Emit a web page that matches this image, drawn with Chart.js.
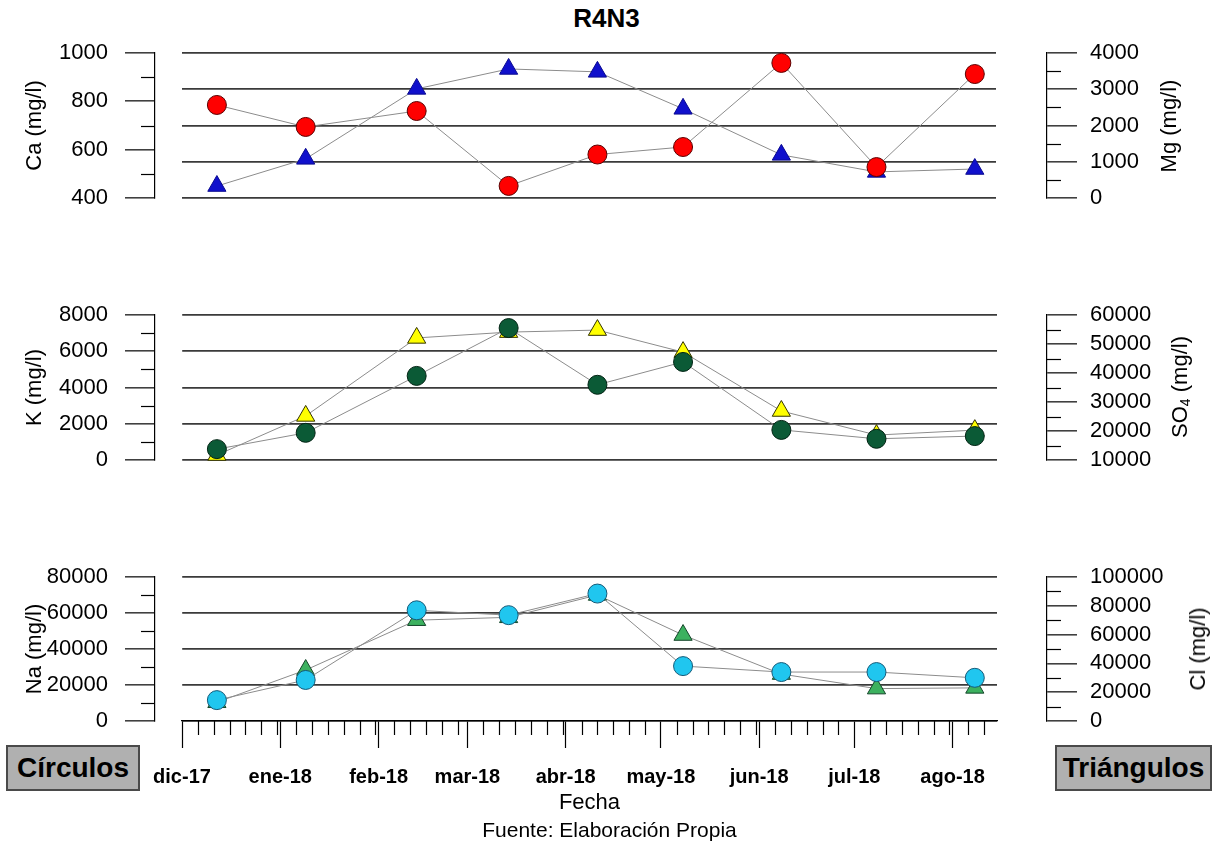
<!DOCTYPE html>
<html>
<head>
<meta charset="utf-8">
<script src="https://cdn.jsdelivr.net/npm/chart.js@4.4.1/dist/chart.umd.min.js"></script>
<style>
  body { margin: 0; background: #fff; width: 1213px; height: 844px; position: relative; overflow: hidden;
         font-family: Arial, "Liberation Sans", sans-serif; color: #000; }
  canvas { position: absolute; left: 0; }
  .txt { position: absolute; white-space: nowrap; }
  .rot { position: absolute; white-space: nowrap; font-size: 22px; line-height: 26px;
         transform: translate(-50%, -50%) rotate(-90deg); }
  .rot sub { font-size: 14px; vertical-align: -3px; }
  .box { position: absolute; box-sizing: border-box; background: #b0b0b0; border: 2px solid #4a4a4a;
         font-weight: bold; font-size: 28px; display: flex; align-items: center; justify-content: center; }
</style>
</head>
<body>
<div class="txt" style="left:0;width:1213px;top:3px;text-align:center;font-size:26px;line-height:30px;font-weight:bold">R4N3</div>

<canvas id="c1" width="1213" height="210" style="top:22px"></canvas>
<canvas id="c2" width="1213" height="210" style="top:284px"></canvas>
<canvas id="c3" width="1213" height="298" style="top:546px"></canvas>

<div class="rot" style="left:1169px;top:126px">Mg (mg/l)</div>
<div class="rot" style="left:1182px;top:387px">SO<sub>4</sub> (mg/l)</div>
<div class="rot" style="left:1198px;top:649px">Cl (mg/l)</div>

<div class="box" style="left:6px;top:745px;width:134px;height:46px">Círculos</div>
<div class="box" style="left:1055px;top:745px;width:157px;height:46px">Triángulos</div>

<div class="txt" style="left:0;width:1219px;top:818px;text-align:center;font-size:21px;line-height:24px">Fuente: Elaboración Propia</div>

<script>
// sampling dates and month ticks
const axisStart = "2017-12-01";
const axisEnd = "2018-08-15";
const sampleDates = ["2017-12-12", "2018-01-09", "2018-02-13", "2018-03-14", "2018-04-11",
                     "2018-05-08", "2018-06-08", "2018-07-08", "2018-08-08"];
const monthStarts = ["2017-12-01", "2018-01-01", "2018-02-01", "2018-03-01", "2018-04-01",
                     "2018-05-01", "2018-06-01", "2018-07-01", "2018-08-01"];
const monthLabels = ["dic-17", "ene-18", "feb-18", "mar-18", "abr-18", "may-18", "jun-18", "jul-18", "ago-18"];

// circles (left axes)
const ca = [785, 694, 760, 450, 580, 611, 959, 528, 913];
const k = [600, 1500, 4640, 7280, 4150, 5410, 1660, 1170, 1320];
const na = [11600, 22800, 61500, 58800, 70800, 30500, 27200, 27200, 24000];

// triangles (right axes)
const mg = [330, 1080, 3010, 3560, 3480, 2460, 1190, 720, 800];
const so4 = [11700, 25200, 52100, 54100, 54800, 47200, 26900, 18600, 20300];
const cl = [13000, 35400, 70000, 72000, 87500, 59700, 32600, 22500, 23000];

// axis tick labels
const caTicks = [400, 600, 800, 1000];
const mgTicks = [0, 1000, 2000, 3000, 4000];
const kTicks = [0, 2000, 4000, 6000, 8000];
const so4Ticks = [10000, 20000, 30000, 40000, 50000, 60000];
const naTicks = [0, 20000, 40000, 60000, 80000];
const clTicks = [0, 20000, 40000, 60000, 80000, 100000];

const toDay = s => (Date.parse(s) - Date.parse(axisStart)) / 86400000;
const monthDays = monthStarts.map(toDay);
const xMax = toDay(axisEnd);

Chart.defaults.font.family = 'Arial, "Liberation Sans", sans-serif';
Chart.defaults.color = '#000';

// short ticks between the labelled ones
Chart.register({
  id: 'minorTicks',
  afterDraw(chart) {
    const ctx = chart.ctx;
    ctx.save();
    ctx.strokeStyle = '#000';
    ctx.lineWidth = 1.2;
    ['y', 'y2'].forEach(id => {
      const s = chart.scales[id];
      const vals = s.ticks.map(t => t.value);
      for (let i = 0; i < vals.length - 1; i++) {
        const py = Math.round(s.getPixelForValue((vals[i] + vals[i + 1]) / 2)) + 0.5;
        const x0 = id === 'y' ? s.right : s.left;
        const x1 = id === 'y' ? s.right - 14 : s.left + 14;
        ctx.beginPath(); ctx.moveTo(x0, py); ctx.lineTo(x1, py); ctx.stroke();
      }
    });
    const sx = chart.scales.x;
    if (sx.options.display) {
      monthDays.forEach((d, i) => {
        const next = i < monthDays.length - 1 ? monthDays[i + 1] : xMax + 1;
        for (let m = d + 5; m < next && m <= xMax; m += 5) {
          const px = Math.round(sx.getPixelForValue(m)) + 0.5;
          ctx.beginPath(); ctx.moveTo(px, sx.top); ctx.lineTo(px, sx.top + 14); ctx.stroke();
        }
      });
    }
    ctx.restore();
  }
});

function points(values) {
  return values.map((v, i) => ({ x: toDay(sampleDates[i]), y: v }));
}

function panel(id, p) {
  const tickFont = { size: 22 };
  const gridColor = '#3a3a3a';
  return new Chart(document.getElementById(id), {
    type: 'line',
    data: {
      datasets: [
        {
          data: points(p.circles), yAxisID: 'y',
          borderColor: '#8c8c8c', borderWidth: 1, clip: false,
          pointStyle: 'circle', pointRadius: 9.5,
          pointBackgroundColor: p.circleFill, pointBorderColor: p.circleEdge, pointBorderWidth: 1
        },
        {
          data: points(p.triangles), yAxisID: 'y2',
          borderColor: '#8c8c8c', borderWidth: 1, clip: false,
          pointStyle: 'triangle', pointRadius: 10.5,
          pointBackgroundColor: p.triFill, pointBorderColor: p.triEdge, pointBorderWidth: 1
        }
      ]
    },
    options: {
      responsive: false,
      animation: false,
      events: [],
      devicePixelRatio: 1,
      layout: { padding: { top: 31, bottom: p.padBottom, left: 0, right: 0 } },
      plugins: { legend: { display: false }, tooltip: { enabled: false } },
      scales: {
        x: {
          type: 'linear', min: 0, max: xMax, display: p.showX, position: 'bottom',
          afterBuildTicks: s => { s.ticks = monthDays.map(v => ({ value: v })); },
          ticks: { autoSkip: false, maxRotation: 0, padding: 17,
                   callback: (v, i) => monthLabels[i], font: { size: 20, weight: 'bold' } },
          grid: { drawOnChartArea: false, drawTicks: true, tickLength: 27, tickColor: '#000', tickWidth: 1.2 },
          border: { display: true, color: '#000', width: 1.2 },
          title: { display: true, text: 'Fecha', font: { size: 22 }, padding: { top: 0, bottom: 0 } },
          afterFit: s => { if (p.showX) s.height = 95; }
        },
        y: {
          type: 'linear', position: 'left', weight: 10,
          min: p.leftTicks[0], max: p.leftTicks[p.leftTicks.length - 1],
          afterBuildTicks: s => { s.ticks = p.leftTicks.map(v => ({ value: v })); },
          ticks: { autoSkip: false, callback: v => String(v), font: tickFont, padding: 17 },
          grid: { drawOnChartArea: p.gridLeft, color: gridColor, lineWidth: 1.7,
                  drawTicks: true, tickLength: 30, tickColor: '#000', tickWidth: 1.2 },
          border: { display: true, color: '#000', width: 1.2 },
          title: { display: true, text: p.leftTitle, font: { size: 22 }, padding: { top: 22, bottom: 0 } },
          afterFit: s => { s.width = 155; }
        },
        gapL: {
          type: 'linear', position: 'left', weight: 0,
          ticks: { display: false }, grid: { display: false }, border: { display: false },
          afterFit: s => { s.width = 27; }
        },
        gapR: {
          type: 'linear', position: 'right', weight: 0,
          ticks: { display: false }, grid: { display: false }, border: { display: false },
          afterFit: s => { s.width = 50; }
        },
        y2: {
          type: 'linear', position: 'right', weight: 10,
          min: p.rightTicks[0], max: p.rightTicks[p.rightTicks.length - 1],
          afterBuildTicks: s => { s.ticks = p.rightTicks.map(v => ({ value: v })); },
          ticks: { autoSkip: false, callback: v => String(v), font: tickFont, padding: 13 },
          grid: { drawOnChartArea: !p.gridLeft, color: gridColor, lineWidth: 1.7,
                  drawTicks: true, tickLength: 30, tickColor: '#000', tickWidth: 1.2 },
          border: { display: true, color: '#000', width: 1.2 },
          afterFit: s => { s.width = 166; }
        }
      }
    }
  });
}

panel('c1', {
  circles: ca, triangles: mg, leftTicks: caTicks, rightTicks: mgTicks,
  leftTitle: 'Ca (mg/l)', gridLeft: false, showX: false, padBottom: 34,
  circleFill: '#ff0000', circleEdge: '#5a0000', triFill: '#1010cc', triEdge: '#0a0a90'
});
panel('c2', {
  circles: k, triangles: so4, leftTicks: kTicks, rightTicks: so4Ticks,
  leftTitle: 'K (mg/l)', gridLeft: true, showX: false, padBottom: 34,
  circleFill: '#0b5a36', circleEdge: '#022414', triFill: '#ffff00', triEdge: '#333300'
});
panel('c3', {
  circles: na, triangles: cl, leftTicks: naTicks, rightTicks: clTicks,
  leftTitle: 'Na (mg/l)', gridLeft: true, showX: true, padBottom: 28,
  circleFill: '#20c6ef', circleEdge: '#155a78', triFill: '#3cb15f', triEdge: '#14452a'
});
</script>
</body>
</html>
